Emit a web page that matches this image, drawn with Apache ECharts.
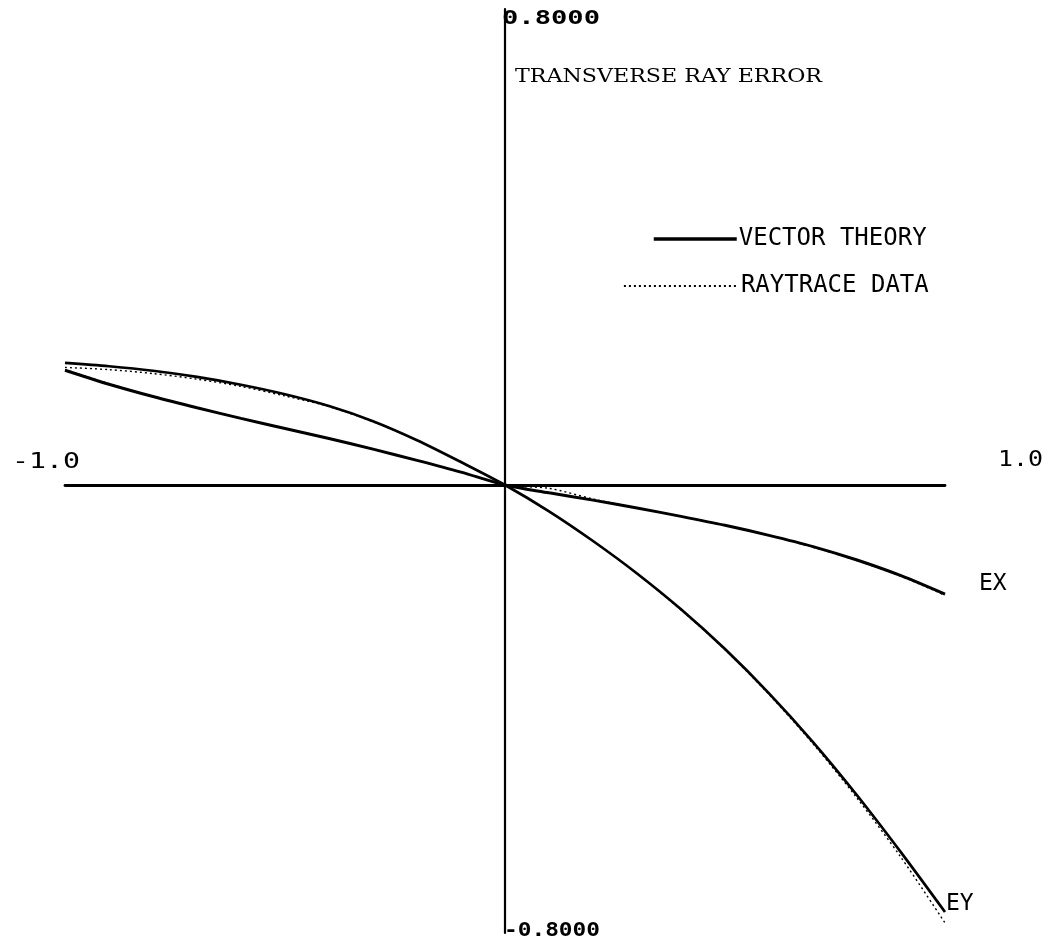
<!DOCTYPE html>
<html>
<head>
<meta charset="utf-8">
<script src="https://cdn.jsdelivr.net/npm/echarts@6/dist/echarts.min.js"></script>
<style>
html,body{margin:0;padding:0;background:#fff;}
#chart{width:1050px;height:947px;}
</style>
</head>
<body>
<div id="chart"></div>
<script>
// ---- data ----
const xValues = [-1.0,-0.9,-0.8,-0.7,-0.6,-0.5,-0.4,-0.3,-0.2,-0.1,0.0,0.1,0.2,0.3,0.4,0.5,0.6,0.7,0.8,0.9,1.0];
const exVector   = [0.205,0.180,0.158,0.138,0.119,0.101,0.083,0.064,0.044,0.023,0,-0.014,-0.027,-0.041,-0.056,-0.072,-0.090,-0.110,-0.134,-0.162,-0.195];
const exRaytrace = [0.206,0.181,0.158,0.138,0.119,0.101,0.083,0.064,0.044,0.023,0,-0.006,-0.025,-0.041,-0.056,-0.072,-0.090,-0.111,-0.135,-0.163,-0.197];
const eyVector   = [0.218,0.212,0.204,0.193,0.179,0.162,0.141,0.114,0.080,0.041,0,-0.047,-0.100,-0.158,-0.222,-0.293,-0.372,-0.459,-0.554,-0.656,-0.7625];
const eyRaytrace = [0.210,0.206,0.199,0.189,0.176,0.159,0.140,0.113,0.080,0.041,0,-0.047,-0.100,-0.158,-0.223,-0.294,-0.374,-0.462,-0.559,-0.665,-0.782];
const seriesNames = ['VECTOR THEORY','RAYTRACE DATA'];
const curveLabels = ['EX','EY'];
const xTickLabels = ['-1.0','1.0'];
const yTickLabels = ['0.8000','-0.8000'];
const yTitle = 'TRANSVERSE RAY ERROR';

const pairs = (ys) => xValues.map((x,i)=>[x, ys[i]]);

const mctx = document.createElement('canvas').getContext('2d');
function stretch(text, font, targetW){ mctx.font = font; return targetW / mctx.measureText(text).width; }

const plotFont = '"DejaVu Sans Mono", monospace';
function label(text, x, y, size, targetW, weight, family){
  const fam = family || plotFont;
  const w = weight || 'normal';
  const font = w + ' ' + size + 'px ' + fam;
  return {
    type:'text', x:x, y:y, scaleX: stretch(text, font, targetW), z:10,
    style:{ text:text, font:font, fill:'#000', verticalAlign:'middle', align:'left' }
  };
}

const chart = echarts.init(document.getElementById('chart'), null, {renderer:'canvas'});

const solid = { color:'#000', width:3, type:'solid' };
const dotted = { color:'#000', width:1.4, type:[2,3] };

const endLab = (txt, dist, off) => ({
  show:true, formatter:txt, distance:dist, offset:off,
  fontFamily: plotFont, fontSize:23, color:'#000'
});

const legendText = { fontFamily:plotFont, fontSize:24, color:'#000', padding:[0,0,0,-3] };

chart.setOption({
  animation:false,
  backgroundColor:'#fff',
  color:['#000','#000','#000','#000'],
  grid:{ left:65, right:105, top:9, bottom:14, containLabel:false },
  xAxis:{
    type:'value', min:-1, max:1,
    axisLine:{ show:true, onZero:true, lineStyle:{ color:'#000', width:2.8 } },
    axisTick:{ show:false }, axisLabel:{ show:false }, splitLine:{ show:false }
  },
  yAxis:{
    type:'value', min:-0.8, max:0.85,
    axisLine:{ show:true, onZero:true, lineStyle:{ color:'#000', width:2.2 } },
    axisTick:{ show:false }, axisLabel:{ show:false }, splitLine:{ show:false }
  },
  legend:[
    { data:[seriesNames[0]], left:652, top:227, padding:0, itemWidth:83, itemHeight:14,
      itemStyle:{ opacity:0 }, lineStyle:{ width:3.5 }, textStyle:legendText },
    { data:[seriesNames[1]], left:623, top:274, padding:0, itemWidth:115, itemHeight:14,
      itemStyle:{ opacity:0 }, lineStyle:{ width:1.8 }, textStyle:legendText }
  ],
  series:[
    { name:seriesNames[0], type:'line', data:pairs(exVector), symbol:'none', showSymbol:false,
      smooth:0.3, lineStyle:solid, itemStyle:{color:'#000'}, z:2, endLabel:endLab(curveLabels[0], 34, [0,-10]) },
    { name:seriesNames[0], type:'line', data:pairs(eyVector), symbol:'none', showSymbol:false,
      smooth:0.3, lineStyle:Object.assign({}, solid, {width:2.7}), itemStyle:{color:'#000'}, z:2, endLabel:endLab(curveLabels[1], 1, [0,-8]) },
    { name:seriesNames[1], type:'line', data:pairs(exRaytrace), symbol:'none', showSymbol:false,
      smooth:0.3, lineStyle:dotted, itemStyle:{color:'#000'}, z:3 },
    { name:seriesNames[1], type:'line', data:pairs(eyRaytrace), symbol:'none', showSymbol:false,
      smooth:0.3, lineStyle:dotted, itemStyle:{color:'#000'}, z:3 }
  ],
  graphic:[
    label(yTickLabels[0], 502, 19, 19, 98, 'bold'),
    label(yTitle, 515, 77, 19, 307, 'normal', '"DejaVu Serif", serif'),
    label(xTickLabels[0], 12, 463, 21, 68),
    label(xTickLabels[1], 998, 461, 21, 45),
    label(yTickLabels[1], 504, 931, 19, 96, 'bold')
  ]
});
</script>
</body>
</html>
